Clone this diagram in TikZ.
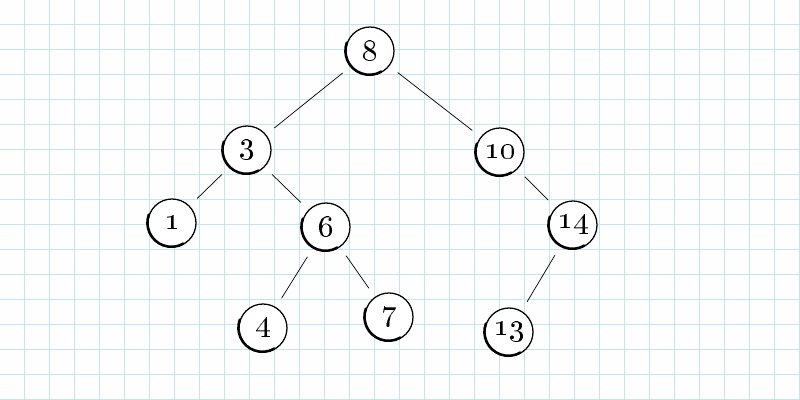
\documentclass[tikz,border=0pt]{standalone}
\usepackage{tikz}
\usepackage{graphicx}
\usetikzlibrary{calc}
\definecolor{gridblue}{RGB}{196,228,240}
\newcommand{\treenum}[1]{\scalebox{2.2}{\oldstylenums{#1}}}

\begin{document}
\begin{tikzpicture}[x=0.025cm, y=-0.025cm, line cap=round]
   % paper and grid
   \fill[white!98!gridblue] (0,0) rectangle (800,400);
   \useasboundingbox (0,0) rectangle (800,400);
   \foreach \g in {-1,24,...,799} {
     \draw[gridblue, line width=0.55pt] (\g,0) -- (\g,400);
   }
   \foreach \g in {-1,24,...,399} {
     \draw[gridblue, line width=0.55pt] (0,\g) -- (800,\g);
   }
   \begin{scope}[every node/.style={circle,draw=black,line width=0.9pt,fill=white,
       minimum size=1.2cm,inner sep=0pt}]
    \node (n8)  at (370,51)  {\treenum{8}};
    \node (n3)  at (247,150) {\treenum{3}};
    \node (n10) at (500,152) {\treenum{10}};
    \node (n1)  at (172,223) {\treenum{1}};
    \node (n6)  at (326,227) {\treenum{6}};
    \node (n14) at (573,225) {\treenum{14}};
    \node (n4)  at (263,328) {\treenum{4}};
    \node (n7)  at (389,317) {\treenum{7}};
    \node (n13) at (509,332) {\treenum{13}};
   \end{scope}
   % thick ink on the lower left of each circle
   \foreach \n in {n8,n3,n10,n1,n6,n14,n4,n7,n13} {
     \draw[line width=1.8pt, xshift=-0.6pt, yshift=-0.7pt]
       (\n.160) arc[start angle=160, end angle=300, radius=0.6cm];
   }
   \begin{scope}[every edge/.style={draw=black,line width=0.5pt,shorten >=7.5pt,shorten <=7.5pt}]
    \draw  (n8)  edge (n3);
    \draw  (n8)  edge (n10);
    \draw  (n3)  edge (n1);
    \draw  (n3)  edge (n6);
    \draw  (n6)  edge (n4);
    \draw  (n6)  edge (n7);
    \draw  (n10) edge (n14);
    \draw  (n14) edge (n13);
   \end{scope}
\end{tikzpicture}
\end{document}
